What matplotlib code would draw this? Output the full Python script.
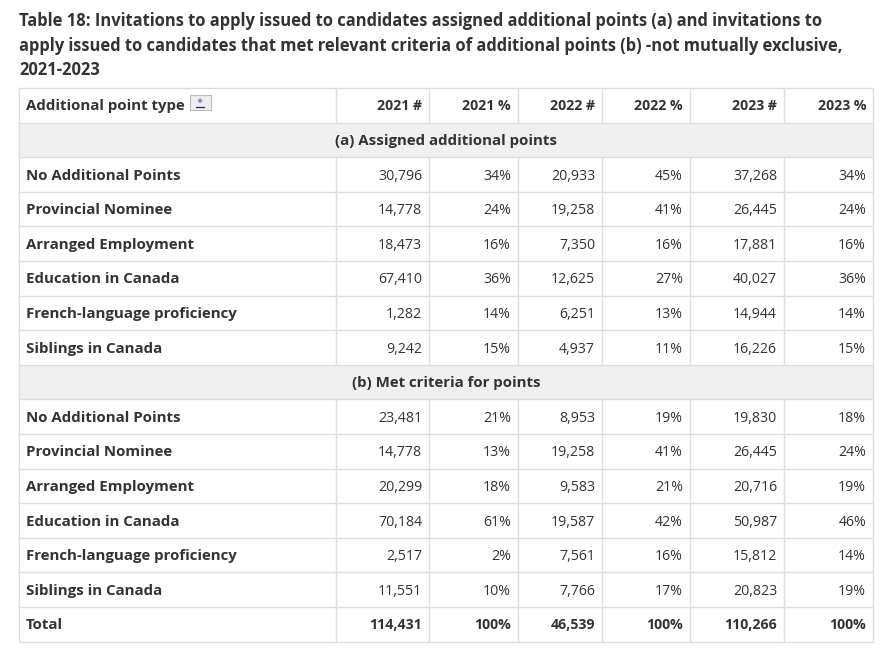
import matplotlib
matplotlib.use("Agg")
import matplotlib.pyplot as plt
from matplotlib.patches import Rectangle

W, H = 888, 653
FONT = ["Open Sans", "DejaVu Sans"]
TXT = "#333333"

title_lines = [
    "Table 18: Invitations to apply issued to candidates assigned additional points (a) and invitations to",
    "apply issued to candidates that met relevant criteria of additional points (b) -not mutually exclusive,",
    "2021-2023",
]
headers = ["Additional point type", "2021 #", "2021 %", "2022 #", "2022 %", "2023 #", "2023 %"]
section_a = "(a) Assigned additional points"
section_b = "(b) Met criteria for points"
categories = ["No Additional Points", "Provincial Nominee", "Arranged Employment",
              "Education in Canada", "French-language proficiency", "Siblings in Canada"]

a_2021_n = ["30,796", "14,778", "18,473", "67,410", "1,282", "9,242"]
a_2021_p = ["34%", "24%", "16%", "36%", "14%", "15%"]
a_2022_n = ["20,933", "19,258", "7,350", "12,625", "6,251", "4,937"]
a_2022_p = ["45%", "41%", "16%", "27%", "13%", "11%"]
a_2023_n = ["37,268", "26,445", "17,881", "40,027", "14,944", "16,226"]
a_2023_p = ["34%", "24%", "16%", "36%", "14%", "15%"]

b_2021_n = ["23,481", "14,778", "20,299", "70,184", "2,517", "11,551"]
b_2021_p = ["21%", "13%", "18%", "61%", "2%", "10%"]
b_2022_n = ["8,953", "19,258", "9,583", "19,587", "7,561", "7,766"]
b_2022_p = ["19%", "41%", "21%", "42%", "16%", "17%"]
b_2023_n = ["19,830", "26,445", "20,716", "50,987", "15,812", "20,823"]
b_2023_p = ["18%", "24%", "19%", "46%", "14%", "19%"]

total_label = "Total"
total_values = ["114,431", "100%", "46,539", "100%", "110,266", "100%"]

fig = plt.figure(figsize=(W / 100, H / 100), dpi=100)
ax = fig.add_axes([0, 0, 1, 1])
ax.set_xlim(0, W)
ax.set_ylim(H, 0)
ax.axis("off")

# Title
for i, line in enumerate(title_lines):
    ax.text(19, 26.5 + i * 24.3, line, fontsize=11.9, fontweight="bold",
            family=FONT, color=TXT, va="baseline", ha="left")

col_x = [19, 336, 429, 518, 602, 690, 784, 873]
top = 88
rh = 34.6
n_rows = 16
row_y = [top + i * rh for i in range(n_rows + 1)]

rows = []
rows.append(("header", headers))
rows.append(("section", section_a))
for i, c in enumerate(categories):
    rows.append(("data", [c, a_2021_n[i], a_2021_p[i], a_2022_n[i], a_2022_p[i], a_2023_n[i], a_2023_p[i]]))
rows.append(("section", section_b))
for i, c in enumerate(categories):
    rows.append(("data", [c, b_2021_n[i], b_2021_p[i], b_2022_n[i], b_2022_p[i], b_2023_n[i], b_2023_p[i]]))
rows.append(("total", [total_label] + total_values))

border = "#dddddd"
fs = 10.2
fs_lab = 10.85
for r, (kind, content) in enumerate(rows):
    y0, y1 = row_y[r], row_y[r + 1]
    base = y0 + 22.3
    if kind == "section":
        ax.add_patch(Rectangle((col_x[0], y0), col_x[-1] - col_x[0], y1 - y0,
                               facecolor="#f0f0f0", edgecolor="none", zorder=0))
        ax.text((col_x[0] + col_x[-1]) / 2, base, content, fontsize=fs_lab, fontweight="bold",
                family=FONT, color=TXT, ha="center", va="baseline")
        for x in (col_x[0], col_x[-1]):
            ax.plot([x, x], [y0, y1], color=border, lw=1, zorder=1, solid_capstyle="butt")
    else:
        for c in range(7):
            if c == 0:
                ax.text(col_x[0] + 7, base, content[0], fontsize=fs_lab, fontweight="bold",
                        family=FONT, color=TXT, ha="left", va="baseline")
            else:
                bold = kind in ("header", "total")
                ax.text(col_x[c + 1] - 7, base, content[c], fontsize=fs,
                        fontweight="bold" if bold else "normal",
                        family=FONT, color=TXT, ha="right", va="baseline")
        for x in col_x:
            ax.plot([x, x], [y0, y1], color=border, lw=1, zorder=1, solid_capstyle="butt")

for y in row_y:
    ax.plot([col_x[0], col_x[-1]], [y, y], color=border, lw=1, zorder=1, solid_capstyle="butt")

# Asterisk footnote icon in header
ax.add_patch(Rectangle((189.5, 94.5), 21, 15.5, facecolor="#eeeeee", edgecolor="#bbbbbb",
                       lw=0.8, zorder=2))
ax.text(200, 105, "*", fontsize=8, family=FONT, color="#2a5db0", ha="center",
        va="baseline", zorder=3)
ax.plot([196, 204], [106.5, 106.5], color="#333333", lw=0.9, zorder=3)

fig.savefig("out.png", dpi=100)
